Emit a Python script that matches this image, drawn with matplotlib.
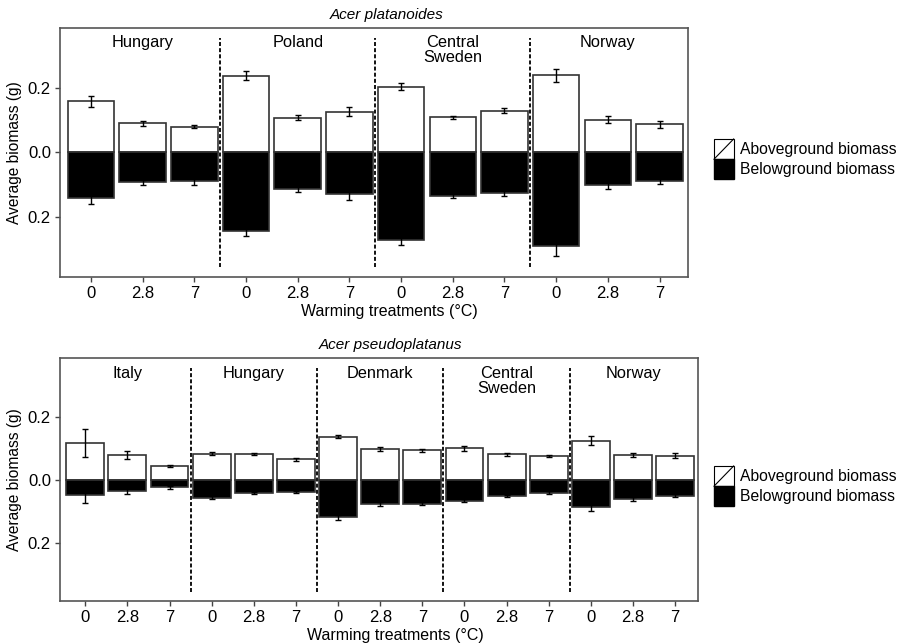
import matplotlib
matplotlib.use("Agg")
import matplotlib.pyplot as plt
from matplotlib.patches import Rectangle, Patch
from matplotlib.lines import Line2D
from matplotlib.legend_handler import HandlerBase
from matplotlib.ticker import FuncFormatter
import numpy as np

plt.rcParams['font.family'] = ['Liberation Sans', 'DejaVu Sans']

treatments = ['0', '2.8', '7']

# Acer platanoides
plat_sites = ['Hungary', 'Poland', 'Central\nSweden', 'Norway']
plat_above = [0.158, 0.090, 0.080, 0.238, 0.108, 0.126,
              0.204, 0.109, 0.129, 0.239, 0.102, 0.087]
plat_above_err = [0.017, 0.008, 0.004, 0.013, 0.007, 0.014,
                  0.012, 0.004, 0.008, 0.020, 0.010, 0.010]
plat_below = [0.141, 0.092, 0.088, 0.243, 0.113, 0.129,
              0.271, 0.134, 0.125, 0.290, 0.100, 0.087]
plat_below_err = [0.018, 0.008, 0.011, 0.016, 0.008, 0.017,
                  0.016, 0.008, 0.010, 0.030, 0.013, 0.009]

# Acer pseudoplatanus
pseu_sites = ['Italy', 'Hungary', 'Denmark', 'Central\nSweden', 'Norway']
pseu_above = [0.115, 0.077, 0.043, 0.082, 0.080, 0.064, 0.136, 0.097,
              0.093, 0.099, 0.080, 0.074, 0.124, 0.079, 0.076]
pseu_above_err = [0.044, 0.013, 0.003, 0.005, 0.003, 0.004, 0.004, 0.005,
                  0.005, 0.007, 0.004, 0.003, 0.013, 0.006, 0.008]
pseu_below = [0.049, 0.036, 0.025, 0.057, 0.043, 0.040, 0.120, 0.077,
              0.076, 0.067, 0.051, 0.041, 0.088, 0.062, 0.051]
pseu_below_err = [0.024, 0.010, 0.004, 0.005, 0.003, 0.003, 0.009, 0.006,
                  0.006, 0.004, 0.003, 0.004, 0.010, 0.007, 0.005]


class DiagonalHandler(HandlerBase):
    # white box with a diagonal stroke, as in the figure key
    def create_artists(self, legend, orig_handle, xdescent, ydescent,
                       width, height, fontsize, trans):
        x0, y0 = -xdescent, -ydescent
        box = Rectangle((x0, y0), width, height, facecolor='white',
                        edgecolor='black', lw=0.8, transform=trans)
        diag = Line2D([x0, x0 + width], [y0, y0 + height], color='black',
                      lw=0.8, transform=trans)
        return [box, diag]


def draw_panel(ax, sites, above, above_err, below, below_err, title_xy, title):
    n = len(above)
    x = np.arange(n)
    edge = '#333333'
    ax.bar(x, above, width=0.9, facecolor='white', edgecolor=edge, lw=1.2, zorder=2)
    ax.bar(x, -np.array(below), width=0.9, facecolor='black', edgecolor=edge,
           lw=1.2, zorder=2)
    ax.errorbar(x, above, yerr=above_err, fmt='none', ecolor='black',
                elinewidth=1, capsize=2.5, capthick=1, zorder=3)
    ax.errorbar(x, -np.array(below), yerr=below_err, fmt='none', ecolor='black',
                elinewidth=1, capsize=2.5, capthick=1, zorder=3)

    for k in range(1, len(sites)):
        ax.vlines(3 * k - 0.5, -0.355, 0.355, colors='black',
                  linestyles=(0, (2.2, 1.2)), lw=1.3, zorder=4)
    for k, site in enumerate(sites):
        ax.text(3 * k + 1, 0.362, site, ha='center', va='top', fontsize=11.8,
                linespacing=1.0)

    ax.set_xlim(-0.6, n - 0.45)
    ax.set_ylim(-0.385, 0.385)
    ax.set_xticks(x)
    ax.set_xticklabels(treatments * len(sites))
    ax.set_yticks([-0.2, 0.0, 0.2])
    ax.yaxis.set_major_formatter(FuncFormatter(lambda v, p: '%.1f' % abs(v)))
    ax.tick_params(length=3.5, width=1, color='#444444', labelsize=12, pad=3)
    for s in ax.spines.values():
        s.set_color('#555555')
        s.set_linewidth(1.2)

    ax.set_ylabel('Average biomass (g)', fontsize=11.2, labelpad=4)
    ax.set_xlabel('Warming treatments (\u00b0C)', fontsize=11.5)
    ax.xaxis.set_label_coords(0.525, -0.11)

    fig.text(title_xy[0], title_xy[1], title, ha='center', va='center',
             fontsize=11, style='italic')


fig = plt.figure(figsize=(9.02, 6.44), dpi=100)
ax1 = fig.add_axes([0.0665, 0.5699, 0.6962, 0.3866])
ax2 = fig.add_axes([0.0665, 0.0668, 0.7077, 0.3769])

draw_panel(ax1, plat_sites, plat_above, plat_above_err, plat_below,
           plat_below_err, (387 / 902, 1 - 15 / 644), 'Acer platanoides')
draw_panel(ax2, pseu_sites, pseu_above, pseu_above_err, pseu_below,
           pseu_below_err, (390 / 902, 1 - 345 / 644), 'Acer pseudoplatanus')

above_key = Patch(facecolor='white', edgecolor='black')
below_key = Patch(facecolor='black', edgecolor='black')
for top_px in (139, 466):
    fig.legend([above_key, below_key],
               ['Aboveground biomass', 'Belowground biomass'],
               handler_map={above_key: DiagonalHandler()},
               loc='upper left', bbox_to_anchor=(714 / 902, 1 - top_px / 644),
               bbox_transform=fig.transFigure, frameon=False, fontsize=11.3,
               borderpad=0, borderaxespad=0, handlelength=1.25,
               handleheight=1.6, labelspacing=0.0, handletextpad=0.4)

fig.savefig('out.png', dpi=100)
